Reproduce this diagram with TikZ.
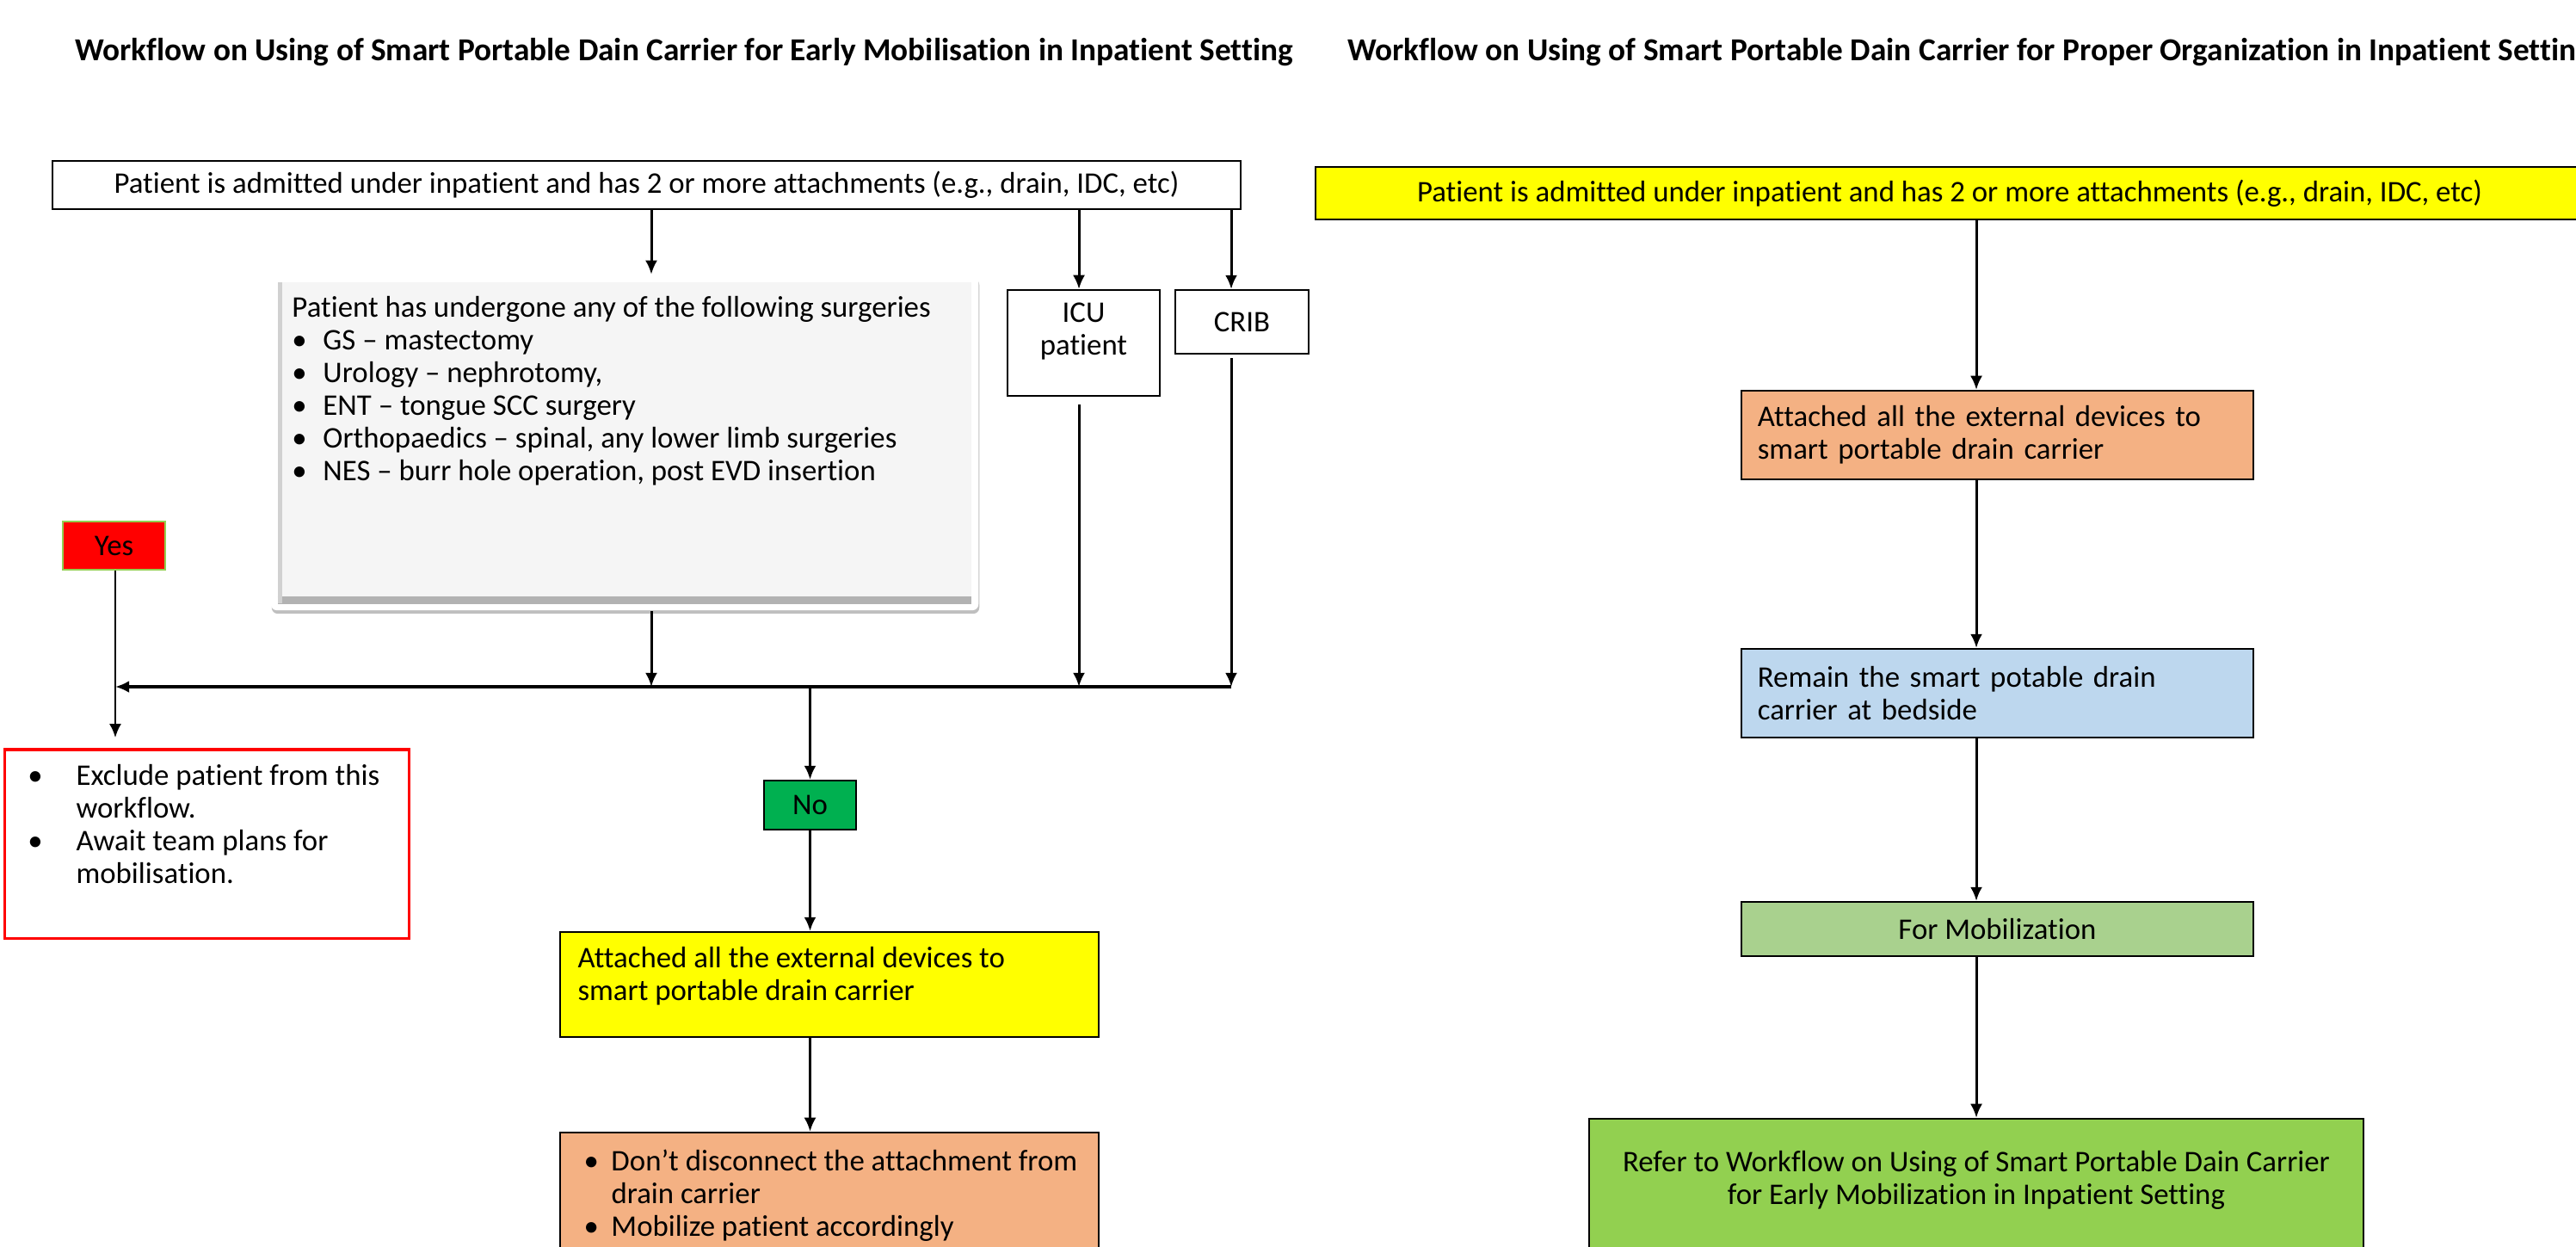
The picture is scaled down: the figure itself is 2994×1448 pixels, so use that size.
\documentclass[tikz,border=0pt]{standalone}
\usepackage{fontspec}
\setmainfont{Carlito}[Ligatures=NoCommon]
\usepackage{tikz}
\usetikzlibrary{shapes,shadows,arrows,arrows.meta}

\definecolor{boxyellow}{HTML}{FFFF00}
\definecolor{boxorange}{HTML}{F4B183}
\definecolor{boxblue}{HTML}{BDD7EE}
\definecolor{boxlime}{HTML}{A9D18E}
\definecolor{boxgreen}{HTML}{92D050}
\definecolor{boxred}{HTML}{FF0000}
\definecolor{nogreen}{HTML}{00B050}

\newcommand{\bitem}[1][0.36cm]{\makebox[#1][l]{\textbullet}}

\begin{document}
\begin{tikzpicture}[x=0.01cm,y=-0.01cm,>={Latex[length=4.6pt,width=4pt]},line width=0.85pt,
	every node/.style={font=\fontsize{9.9}{10.8}\selectfont},
	box/.style={draw, rectangle, line width=0.6pt, inner sep=0pt},
	txt/.style={anchor=north west, align=left, inner sep=0pt},
	title/.style={font=\bfseries\fontsize{10.6}{12}\selectfont}]
	\useasboundingbox (0,0) rectangle (2994,1448);
	% titles
	\node [title] (t1) at (795,61) {Workflow on Using of Smart Portable Dain Carrier for Early Mobilisation in Inpatient Setting};
	\node [title, anchor=west] (t2) at (1553,61) {Workflow on Using of Smart Portable Dain Carrier for Proper Organization in Inpatient Setting};
	% left workflow
	\node [box, minimum width=13.81cm, minimum height=0.56cm] (n1) at (751.5,215) {Patient is admitted under inpatient and has 2 or more attachments (e.g., drain, IDC, etc)};
	\node [box, draw=none, fill=white, rounded corners=2pt, drop shadow={shadow xshift=0.01cm, shadow yshift=-0.04cm, opacity=0.25, fill=black}, minimum width=8.22cm, minimum height=3.89cm] (n2) at (726,514.5) {};
	\fill [black!4] ([xshift=0.09cm,yshift=-0.09cm]n2.north west) rectangle ([xshift=-0.09cm,yshift=0.09cm]n2.south east);
	\draw [black!30, line width=2.5pt] ([xshift=0.09cm,yshift=0.13cm]n2.south west) -- ([xshift=-0.09cm,yshift=0.13cm]n2.south east);
	\draw [black!18, line width=1.5pt] ([xshift=0.12cm,yshift=-0.09cm]n2.north west) -- ([xshift=0.12cm,yshift=0.09cm]n2.south west);
	\node [txt] (n2t) at (338,343) {Patient has undergone any of the following surgeries\\
		\bitem GS – mastectomy\\
		\bitem Urology – nephrotomy,\\
		\bitem ENT – tongue SCC surgery\\
		\bitem Orthopaedics – spinal, any lower limb surgeries\\
		\bitem NES – burr hole operation, post EVD insertion};
	\node [box, minimum width=1.77cm, minimum height=1.23cm] (n3) at (1259.5,398.5) {};
	\node [align=center, anchor=north, inner sep=0pt] (n3t) at (1259.5,350) {ICU\\patient};
	\node [box, minimum width=1.55cm, minimum height=0.74cm] (n4) at (1443.5,374) {CRIB};
	\node [box, fill=boxred, draw=boxgreen, minimum width=1.19cm, minimum height=0.56cm] (n5) at (132.5,634) {Yes};
	\node [box, draw=boxred, line width=0.9pt, minimum width=4.69cm, minimum height=2.19cm] (n6) at (240.5,980.5) {};
	\node [txt] (n6t) at (31,887) {\bitem[0.56cm]Exclude patient from this\\
		\hspace*{0.56cm}workflow.\\
		\bitem[0.56cm]Await team plans for\\
		\hspace*{0.56cm}mobilisation.};
	\node [box, fill=nogreen, minimum width=1.07cm, minimum height=0.57cm] (n7) at (941.5,935.5) {No};
	\node [box, fill=boxyellow, minimum width=6.26cm, minimum height=1.22cm] (n8) at (964,1144) {};
	\node [txt] (n8t) at (670,1099) {Attached all the external devices to\\smart portable drain carrier};
	\node [box, fill=boxorange, minimum width=6.26cm, minimum height=1.5cm] (n9) at (964,1391) {};
	\node [txt] (n9t) at (677,1334) {\bitem[0.32cm]Don’t disconnect the attachment from\\
		\hspace*{0.32cm}drain carrier\\
		\bitem[0.32cm]Mobilize patient accordingly};
	\coordinate (j0) at (134,798);
	\coordinate (j1) at (757,798);
	\coordinate (j2) at (1254,798);
	\coordinate (j3) at (1431,798);
	\draw [->] (n1.south -| j1) -- (n2.north -| j1);
	\draw [->] (n1.south -| j2) -- (n3.north -| j2);
	\draw [->] (n1.south -| j3) -- (n4.north -| j3);
	\draw [->] (n2.south -| j1) -- (j1);
	\draw [->] ([yshift=-0.09cm]n3.south -| j2) -- (j2);
	\draw [->] ([yshift=-0.04cm]n4.south -| j3) -- (j3);
	\draw [->, line width=1.1pt] (j3) -- (j0);
	\draw [->] (n5.south -| j0) -- ([yshift=0.12cm]n6.north -| j0);
	\draw [->] (n7 |- j0) -- (n7.north);
	\draw [->] (n7.south) -- (n8.north -| n7);
	\draw [->] (n8.south -| n7) -- (n9.north -| n7);
	% right workflow
	\node [box, fill=boxyellow, minimum width=14.74cm, minimum height=0.61cm] (r0) at (2266,224.5) {Patient is admitted under inpatient and has 2 or more attachments (e.g., drain, IDC, etc)};
	\node [box, fill=boxorange, minimum width=5.95cm, minimum height=1.03cm, inner xsep=0.19cm, text width=5.57cm, align=left] (r1) at (2321.5,505.5) {Attached all the external devices to\\smart portable drain carrier};
	\node [box, fill=boxblue, minimum width=5.95cm, minimum height=1.03cm, inner xsep=0.19cm, text width=5.57cm, align=left] (r2) at (2321.5,805.5) {Remain the smart potable drain\\carrier at bedside};
	\node [box, fill=boxlime, minimum width=5.95cm, minimum height=0.63cm] (r3) at (2321.5,1079.5) {For Mobilization};
	\node [box, fill=boxgreen, minimum width=9cm, minimum height=1.8cm] (r4) at (2297,1390) {};
	\node [align=center, anchor=north, inner sep=0pt] (r4t) at (2297,1336) {Refer to Workflow on Using of Smart Portable Dain Carrier\\for Early Mobilization in Inpatient Setting};
	\draw [->] (r0.south -| r4) -- (r1.north -| r4);
	\draw [->] (r1.south -| r4) -- (r2.north -| r4);
	\draw [->] (r2.south -| r4) -- (r3.north -| r4);
	\draw [->] (r3.south -| r4) -- (r4.north);
\end{tikzpicture}
\end{document}
